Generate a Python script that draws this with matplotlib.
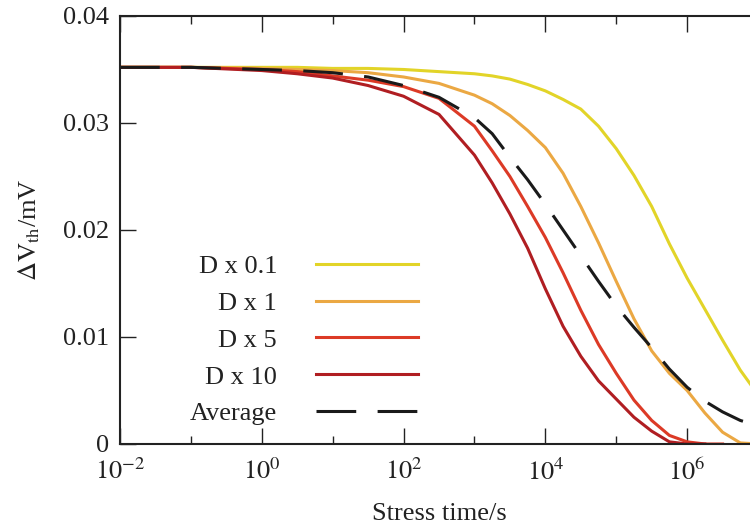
import numpy as np
import matplotlib
matplotlib.use("Agg")
import matplotlib.pyplot as plt
from matplotlib.ticker import NullFormatter

plt.rcParams['font.family'] = ['Liberation Serif', 'DejaVu Serif']
plt.rcParams['mathtext.fontset'] = 'stix'
plt.rcParams['font.size'] = 19

# stress time grid (s)
t = np.array([1e-2, 1e-1, 1e0, 10**0.5, 1e1, 10**1.5, 1e2, 10**2.5, 1e3, 10**3.25,
              10**3.5, 10**3.75, 1e4, 10**4.25, 10**4.5, 10**4.75, 1e5, 10**5.25,
              10**5.5, 10**5.75, 1e6, 10**6.25, 10**6.5, 10**6.75, 1e7])

# threshold voltage shift for each diffusion scaling
dv_d01 = [0.0352, 0.0352, 0.0352, 0.0352, 0.0351, 0.0351, 0.0350, 0.0348, 0.0346, 0.0344,
          0.0341, 0.0336, 0.0330, 0.0322, 0.0313, 0.0297, 0.0276, 0.0251,
          0.0222, 0.0187, 0.0155, 0.0126, 0.0097, 0.0069, 0.0046]
dv_d1 = [0.0352, 0.0352, 0.0351, 0.0350, 0.0349, 0.0347, 0.0343, 0.0337, 0.0326, 0.0318,
         0.0307, 0.0293, 0.0277, 0.0253, 0.0222, 0.0188, 0.0152, 0.0117,
         0.0087, 0.0066, 0.0050, 0.0029, 0.0011, 0.0001, 0.0]
dv_d5 = [0.0352, 0.0352, 0.0350, 0.0348, 0.0344, 0.0340, 0.0334, 0.0323, 0.0297, 0.0274,
         0.0250, 0.0222, 0.0193, 0.0160, 0.0125, 0.0093, 0.0066, 0.0041,
         0.0022, 0.0008, 0.0002, 0.0, 0.0, np.nan, np.nan]
dv_d10 = [0.0352, 0.0352, 0.0349, 0.0346, 0.0342, 0.0335, 0.0325, 0.0308, 0.0270, 0.0244,
          0.0215, 0.0183, 0.0145, 0.0110, 0.0082, 0.0059, 0.0042, 0.0025,
          0.0012, 0.0002, 0.0, 0.0, np.nan, np.nan, np.nan]
dv_avg = [0.0352, 0.0352, 0.0350, 0.0349, 0.0347, 0.0343, 0.0335, 0.0324, 0.0305, 0.0290,
          0.0268, 0.0247, 0.0224, 0.0200, 0.0176, 0.0152, 0.0129, 0.0109,
          0.0090, 0.0070, 0.0053, 0.0040, 0.0030, 0.0022, 0.0017]

labels = ["D x 0.1", "D x 1", "D x 5", "D x 10", "Average"]
colors = ["#E2D428", "#EBA843", "#DC3A26", "#B01E22", "#1A1A1A"]

fig = plt.figure(figsize=(7.5, 5.24), dpi=100)
ax = fig.add_axes([0.16, 0.1527, 0.8507, 0.8168])

lw = 2.2
for dv, lab, c in zip([dv_d01, dv_d1, dv_d5, dv_d10], labels[:4], colors[:4]):
    ax.plot(t, dv, color=c, lw=lw, label=lab)
ax.plot(t, dv_avg, color=colors[4], lw=lw, dashes=(13, 7), label=labels[4])

ax.set_xscale('log')
ax.set_xlim(1e-2, 1e7)
ax.set_ylim(0, 0.04)

ax.set_xticks([1e-2, 1e0, 1e2, 1e4, 1e6])
ax.set_xticklabels([r'$10^{-2}$', r'$10^{0}$', r'$10^{2}$', r'$10^{4}$', r'$10^{6}$'])
ax.set_xticks([1e-1, 1e1, 1e3, 1e5], minor=True)
ax.xaxis.set_minor_formatter(NullFormatter())
ax.set_yticks([0, 0.01, 0.02, 0.03, 0.04])
ax.set_yticklabels(['0', '0.01', '0.02', '0.03', '0.04'])

ax.tick_params(which='major', direction='in', length=11.5, width=1, top=True,
               right=False, colors='#222222', labelcolor='#222222')
ax.tick_params(which='minor', direction='in', length=5.8, width=1, top=True,
               right=False, color='#222222')
ax.tick_params(axis='x', which='major', pad=10.5)
ax.tick_params(axis='y', which='major', pad=8)
for s in ax.spines.values():
    s.set_linewidth(1.5)
    s.set_color('#222222')

ax.set_xlabel('Stress time/s', color='#222222', labelpad=13)
ax.set_ylabel(r'$\Delta\mathrm{V}_{\mathrm{th}}$/mV', color='#222222', labelpad=15)

leg = ax.legend(loc='center right', bbox_to_anchor=(0.467, 0.243), frameon=False,
                markerfirst=False, handlelength=3.86, handletextpad=1.48,
                labelspacing=0.505, borderpad=0, borderaxespad=0)
for txt in leg.get_texts():
    txt.set_color('#222222')

fig.savefig('out.png', dpi=100)
